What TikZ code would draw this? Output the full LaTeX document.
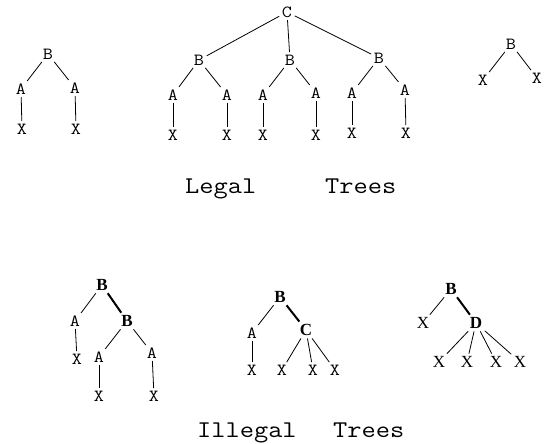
\documentclass[tikz,border=0pt]{standalone}
\usepackage{fontspec}
\newfontfamily\serifrm{Liberation Serif}
\newfontfamily\monowide{Latin Modern Mono}[FakeStretch=1.15]
\begin{document}
\begin{tikzpicture}[x=1pt,y=-1pt,
  lab/.style={font=\fontsize{17}{17}\selectfont\monowide, inner sep=2.5pt},
  bl/.style={font=\fontsize{17}{17}\selectfont\serifrm\bfseries, inner sep=2.5pt},
  sx/.style={font=\fontsize{17}{17}\selectfont\serifrm, inner sep=2.5pt},
  ttl/.style={font=\fontsize{24}{24}\selectfont\monowide, inner sep=0pt},
  e/.style={line width=0.8pt},
  eb/.style={line width=2pt}]
\useasboundingbox (0,0) rectangle (554,444);

% Legal tree 1
\node[lab] (t1b) at (48,54) {B};
\node[lab] (t1a1) at (21,89) {A};
\node[lab] (t1a2) at (75,88) {A};
\node[lab] (t1x1) at (22,129) {X};
\node[lab] (t1x2) at (76,129) {X};
\draw[e] (t1b) -- (t1a1); \draw[e] (t1b) -- (t1a2);
\draw[e] (t1a1) -- (t1x1); \draw[e] (t1a2) -- (t1x2);

% Legal tree 2
\node[lab] (t2c) at (287,12) {C};
\node[lab] (t2b1) at (199,60) {B};
\node[lab] (t2b2) at (290,60) {B};
\node[lab] (t2b3) at (379,58) {B};
\node[lab] (t2a1) at (173,95) {A};
\node[lab] (t2a2) at (227,95) {A};
\node[lab] (t2a3) at (263,95) {A};
\node[lab] (t2a4) at (316,93) {A};
\node[lab] (t2a5) at (352,93) {A};
\node[lab] (t2a6) at (405,90) {A};
\node[lab] (t2x1) at (173,135) {X};
\node[lab] (t2x2) at (227,135) {X};
\node[lab] (t2x3) at (263,135) {X};
\node[lab] (t2x4) at (316,135) {X};
\node[lab] (t2x5) at (352,133) {X};
\node[lab] (t2x6) at (406,133) {X};
\foreach \b in {t2b1,t2b2,t2b3} \draw[e] (t2c) -- (\b);
\draw[e] (t2b1) -- (t2a1); \draw[e] (t2b1) -- (t2a2);
\draw[e] (t2b2) -- (t2a3); \draw[e] (t2b2) -- (t2a4);
\draw[e] (t2b3) -- (t2a5); \draw[e] (t2b3) -- (t2a6);
\foreach \i in {1,...,6} \draw[e] (t2a\i) -- (t2x\i);

% Legal tree 3
\node[lab] (t3b) at (511,44) {B};
\node[lab] (t3x1) at (483,80) {X};
\node[lab] (t3x2) at (537,78) {X};
\draw[e] (t3b) -- (t3x1); \draw[e] (t3b) -- (t3x2);

\node[ttl, anchor=base west] (lg1) at (185,193) {Legal};
\node[ttl, anchor=base west] (lg2) at (325,193) {Trees};

% Illegal tree 1
\node[bl] (i1b) at (102,285) {B};
\node[lab] (i1a1) at (75,321) {A};
\node[bl] (i1b2) at (127,321) {B};
\node[lab] (i1x1) at (77,359) {X};
\node[lab] (i1a2) at (99,357) {A};
\node[lab] (i1a3) at (152,353) {A};
\node[lab] (i1x2) at (99,396) {X};
\node[lab] (i1x3) at (154,396) {X};
\draw[e] (i1b) -- (i1a1); \draw[eb] (i1b) -- (i1b2);
\draw[e] (i1a1) -- (i1x1);
\draw[e] (i1b2) -- (i1a2); \draw[e] (i1b2) -- (i1a3);
\draw[e] (i1a2) -- (i1x2); \draw[e] (i1a3) -- (i1x3);

% Illegal tree 2
\node[bl] (i2b) at (280,297) {B};
\node[lab] (i2a) at (252,333) {A};
\node[bl] (i2c) at (306,330) {C};
\node[lab] (i2x1) at (252,370) {X};
\node[lab] (i2x2) at (282,370) {X};
\node[lab] (i2x3) at (313,370) {X};
\node[lab] (i2x4) at (335,370) {X};
\draw[e] (i2b) -- (i2a); \draw[eb] (i2b) -- (i2c);
\draw[e] (i2a) -- (i2x1);
\draw[e] (i2c) -- (i2x2); \draw[e] (i2c) -- (i2x3); \draw[e] (i2c) -- (i2x4);

% Illegal tree 3
\node[bl] (i3b) at (451,289) {B};
\node[sx] (i3x0) at (423,323) {X};
\node[bl] (i3d) at (476,323) {D};
\node[sx] (i3x1) at (439,362) {X};
\node[sx] (i3x2) at (467,362) {X};
\node[sx] (i3x3) at (496,362) {X};
\node[sx] (i3x4) at (520,362) {X};
\draw[e] (i3b) -- (i3x0); \draw[eb] (i3b) -- (i3d);
\foreach \i in {1,...,4} \draw[e] (i3d) -- (i3x\i);

\node[ttl, anchor=base west] (il1) at (197,437) {Illegal};
\node[ttl, anchor=base west] (il2) at (333,437) {Trees};
\end{tikzpicture}
\end{document}
